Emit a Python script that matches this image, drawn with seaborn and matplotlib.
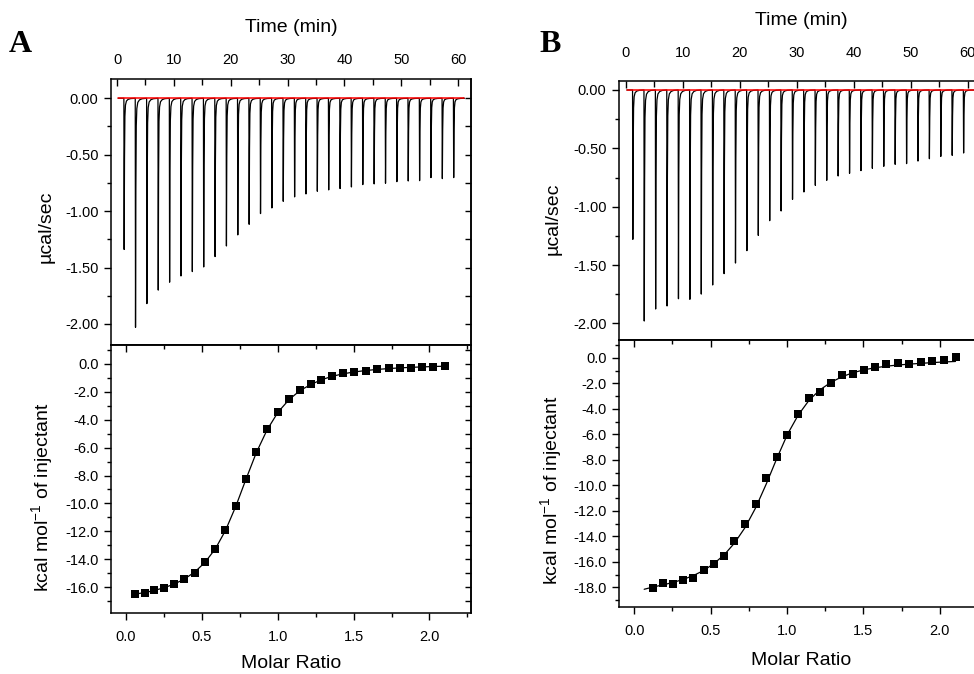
# ITC titration of two samples: raw heat-rate traces (top) and integrated heats with fit (bottom)
import numpy as np
import pandas as pd
import matplotlib
matplotlib.use('Agg')
import matplotlib.pyplot as plt
import seaborn as sns
from matplotlib.ticker import MultipleLocator, FormatStrFormatter

# injection times (min), same protocol for both runs
injection_min = [1.2, 3.2, 5.2, 7.2, 9.2, 11.2, 13.2, 15.2, 17.2, 19.2,
                 21.2, 23.2, 25.2, 27.2, 29.2, 31.2, 33.2, 35.2, 37.2, 39.2,
                 41.2, 43.2, 45.2, 47.2, 49.2, 51.2, 53.2, 55.2, 57.2, 59.2]

# peak heat rate of each injection (ucal/sec)
peak_a = [-1.34, -2.03, -1.82, -1.70, -1.63, -1.575, -1.536, -1.495, -1.403, -1.309,
          -1.211, -1.117, -1.022, -0.972, -0.913, -0.874, -0.848, -0.824, -0.812, -0.800,
          -0.786, -0.765, -0.759, -0.753, -0.739, -0.733, -0.730, -0.703, -0.712, -0.703]
peak_b = [-1.28, -1.98, -1.877, -1.851, -1.789, -1.794, -1.749, -1.671, -1.574, -1.483,
          -1.377, -1.246, -1.120, -1.037, -0.937, -0.874, -0.817, -0.774, -0.737, -0.714,
          -0.691, -0.671, -0.654, -0.637, -0.631, -0.609, -0.589, -0.569, -0.560, -0.540]

# red baseline extent (min)
baseline_a = [0.2, 61.0]
baseline_b = [0.2, 62.5]

# shape of one injection peak: time after injection (min) and fraction of the peak
spike_dt = [0.0, 0.05, 0.11, 0.18, 0.28, 0.45, 0.75, 1.20, 1.90]
spike_frac = [0.0, 1.0, 0.40, 0.12, 0.045, 0.018, 0.007, 0.002, 0.0]

# integrated heats, panel A
ratio_a = [0.059, 0.123, 0.187, 0.253, 0.319, 0.385, 0.453, 0.521, 0.589, 0.655,
           0.723, 0.791, 0.859, 0.930, 1.002, 1.075, 1.145, 1.218, 1.288, 1.360,
           1.433, 1.505, 1.580, 1.655, 1.730, 1.804, 1.879, 1.954, 2.026, 2.103]
heat_a = [-16.53, -16.41, -16.22, -16.05, -15.79, -15.45, -14.97, -14.23, -13.27, -11.93,
          -10.19, -8.23, -6.34, -4.69, -3.42, -2.54, -1.89, -1.46, -1.12, -0.84,
          -0.67, -0.57, -0.48, -0.38, -0.31, -0.29, -0.26, -0.19, -0.19, -0.14]
fit_a = [-16.50, -16.40, -16.24, -16.04, -15.78, -15.42, -14.92, -14.22, -13.25, -11.95,
         -10.22, -8.25, -6.35, -4.72, -3.45, -2.55, -1.92, -1.47, -1.13, -0.88,
         -0.70, -0.57, -0.47, -0.39, -0.33, -0.28, -0.24, -0.21, -0.18, -0.16]

# integrated heats, panel B
ratio_b = [0.124, 0.190, 0.255, 0.320, 0.386, 0.454, 0.521, 0.589, 0.656, 0.726,
           0.794, 0.864, 0.933, 1.003, 1.073, 1.145, 1.215, 1.287, 1.361, 1.433,
           1.505, 1.579, 1.651, 1.725, 1.799, 1.874, 1.950, 2.026, 2.103]
heat_b = [-18.08, -17.66, -17.71, -17.40, -17.24, -16.61, -16.20, -15.57, -14.39, -13.01,
          -11.49, -9.46, -7.76, -6.06, -4.41, -3.16, -2.69, -1.99, -1.38, -1.25,
          -0.99, -0.71, -0.52, -0.44, -0.50, -0.37, -0.29, -0.18, 0.08]
fit_ratio_b = [0.065, 0.124, 0.190, 0.255, 0.320, 0.386, 0.454, 0.521, 0.589, 0.656,
               0.726, 0.794, 0.864, 0.933, 1.003, 1.073, 1.145, 1.215, 1.287, 1.361,
               1.433, 1.505, 1.579, 1.651, 1.725, 1.799, 1.874, 1.950, 2.026, 2.103]
fit_b = [-18.15, -17.97, -17.80, -17.61, -17.38, -17.08, -16.68, -16.14, -15.45, -14.53,
         -13.30, -11.78, -9.90, -7.90, -6.00, -4.50, -3.32, -2.52, -1.93, -1.48,
         -1.17, -0.94, -0.78, -0.66, -0.57, -0.50, -0.44, -0.38, -0.33, -0.29]

sns.set_style('ticks')
plt.rcParams['font.family'] = ['Liberation Sans', 'DejaVu Sans']
plt.rcParams['mathtext.fontset'] = 'custom'
plt.rcParams['mathtext.rm'] = 'Liberation Sans'
plt.rcParams['axes.unicode_minus'] = False
plt.rcParams['axes.linewidth'] = 1.1
plt.rcParams['axes.edgecolor'] = 'black'
for key in ['text.color', 'axes.labelcolor', 'xtick.color', 'ytick.color']:
    plt.rcParams[key] = 'black'


def build_trace(peaks, baseline):
    t = [baseline[0]]
    p = [0.0]
    for t0, pk in zip(injection_min, peaks):
        for dt, fr in zip(spike_dt, spike_frac):
            t.append(t0 + dt)
            p.append(pk * fr)
    t.append(baseline[1])
    p.append(0.0)
    return pd.DataFrame({'time': t, 'power': p})


def style_top(ax, xlim, ylim, pad_x):
    ax.set_xlim(*xlim)
    ax.set_ylim(*ylim)
    ax.xaxis.tick_top()
    ax.xaxis.set_major_locator(MultipleLocator(10))
    ax.xaxis.set_minor_locator(MultipleLocator(5))
    ax.xaxis.set_major_formatter(FormatStrFormatter('%d'))
    ax.tick_params(axis='x', which='both', direction='in', top=True, bottom=False,
                   labeltop=True, labelbottom=False, labelsize=10.5, pad=pad_x, width=1.0)
    ax.tick_params(axis='x', which='major', length=5)
    ax.tick_params(axis='x', which='minor', length=4)
    ax.yaxis.set_major_locator(MultipleLocator(0.5))
    ax.yaxis.set_minor_locator(MultipleLocator(0.25))
    ax.yaxis.set_major_formatter(FormatStrFormatter('%.2f'))
    ax.tick_params(axis='y', which='both', direction='out', left=True, right=False,
                   labelsize=10.5, pad=4, width=1.0)
    ax.tick_params(axis='y', which='major', length=5)
    ax.tick_params(axis='y', which='minor', length=3)
    sec = ax.secondary_yaxis('right')
    sec.yaxis.set_major_locator(MultipleLocator(0.25))
    sec.tick_params(axis='y', direction='in', length=4, width=1.0, labelright=False)


def style_bottom(ax, xlim, ylim):
    ax.set_xlim(*xlim)
    ax.set_ylim(*ylim)
    ax.xaxis.set_major_locator(MultipleLocator(0.5))
    ax.xaxis.set_minor_locator(MultipleLocator(0.25))
    ax.xaxis.set_major_formatter(FormatStrFormatter('%.1f'))
    ax.tick_params(axis='x', which='both', direction='out', bottom=True, top=False,
                   labelsize=10.5, pad=7, width=1.0)
    ax.tick_params(axis='x', which='major', length=5)
    ax.tick_params(axis='x', which='minor', length=3)
    ax.yaxis.set_major_locator(MultipleLocator(2))
    ax.yaxis.set_minor_locator(MultipleLocator(1))
    ax.yaxis.set_major_formatter(FormatStrFormatter('%.1f'))
    ax.tick_params(axis='y', which='both', direction='out', left=True, right=False,
                   labelsize=10.5, pad=4, width=1.0)
    ax.tick_params(axis='y', which='major', length=5)
    ax.tick_params(axis='y', which='minor', length=3)
    secx = ax.secondary_xaxis('top')
    secx.xaxis.set_major_locator(MultipleLocator(0.5))
    secx.xaxis.set_minor_locator(MultipleLocator(0.25))
    secx.tick_params(axis='x', which='both', direction='in', width=1.0, labeltop=False)
    secx.tick_params(axis='x', which='major', length=5)
    secx.tick_params(axis='x', which='minor', length=3)
    secy = ax.secondary_yaxis('right')
    secy.yaxis.set_major_locator(MultipleLocator(1))
    secy.tick_params(axis='y', direction='in', length=4, width=1.0, labelright=False)


fig = plt.figure(figsize=(9.74, 6.74), dpi=100)
ax_a1 = fig.add_axes([0.1140, 0.4881, 0.3696, 0.3947])
ax_a2 = fig.add_axes([0.1140, 0.0905, 0.3696, 0.3976])
ax_b1 = fig.add_axes([0.6355, 0.4955, 0.3717, 0.3843])
ax_b2 = fig.add_axes([0.6355, 0.0994, 0.3717, 0.3961])

ylab_bottom = r'kcal mol$^{\mathregular{-1}}$ of injectant'

panels = [
    (ax_a1, ax_a2, peak_a, baseline_a, ratio_a, heat_a, ratio_a, fit_a,
     (-1.06, 62.3), (-2.187, 0.171), (-0.099, 2.274), (-17.86, 1.36), 8.5,
     [(0.5, 1.192), (-0.181, 0.444), (0.5, -0.187), (-0.189, 0.433)]),
    (ax_b1, ax_b2, peak_b, baseline_b, ratio_b, heat_b, fit_ratio_b, fit_b,
     (-1.18, 62.3), (-2.143, 0.077), (-0.10, 2.27), (-19.54, 1.39), 15,
     [(0.503, 1.232), (-0.182, 0.467), (0.503, -0.199), (-0.185, 0.438)]),
]

for (ax1, ax2, peaks, base, rx, hy, fx, fy, xl1, yl1, xl2, yl2, padx, labpos) in panels:
    trace = build_trace(peaks, base)
    sns.lineplot(data=trace, x='time', y='power', color='black', lw=0.9,
                 estimator=None, sort=False, ax=ax1)
    sns.lineplot(x=base, y=[0.0, 0.0], color='red', lw=1.1, estimator=None, ax=ax1)
    style_top(ax1, xl1, yl1, padx)
    ax1.set_xlabel('Time (min)', fontsize=14)
    ax1.set_ylabel('\u00b5cal/sec', fontsize=14)
    ax1.xaxis.set_label_position('top')

    sns.lineplot(x=fx, y=fy, color='black', lw=0.9, estimator=None, sort=False, ax=ax2)
    sns.scatterplot(x=rx, y=hy, marker='s', color='black', s=34, linewidth=0,
                    zorder=3, ax=ax2)
    style_bottom(ax2, xl2, yl2)
    ax2.set_xlabel('Molar Ratio', fontsize=14)
    ax2.set_ylabel(ylab_bottom, fontsize=14)

    ax1.xaxis.set_label_coords(*labpos[0])
    ax1.yaxis.set_label_coords(*labpos[1])
    ax2.xaxis.set_label_coords(*labpos[2])
    ax2.yaxis.set_label_coords(*labpos[3])
    for lab in (ax1.xaxis.label, ax1.yaxis.label, ax2.xaxis.label, ax2.yaxis.label):
        lab.set_verticalalignment('center')

fig.text(20 / 974, 1 - 44 / 674, 'A', fontsize=23, fontweight='bold',
         family='Liberation Serif', ha='center', va='center')
fig.text(550 / 974, 1 - 44 / 674, 'B', fontsize=23, fontweight='bold',
         family='Liberation Serif', ha='center', va='center')

fig.savefig('out.png', dpi=100)
